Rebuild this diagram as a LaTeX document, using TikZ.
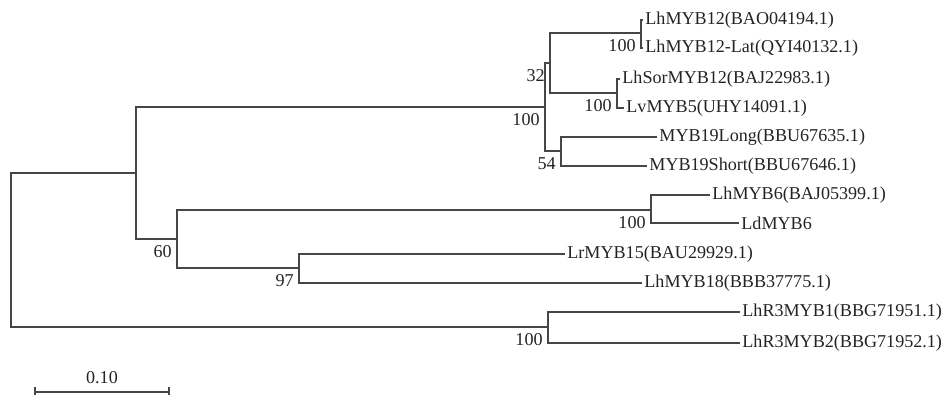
\documentclass[tikz,border=0pt]{standalone}
\usepackage{fontspec}
\setmainfont{Liberation Serif}
\usepackage{xcolor}
\usepackage{tikz}
\usetikzlibrary{positioning}
\definecolor{treeline}{RGB}{70,70,70}
\definecolor{leaftext}{RGB}{35,35,35}

\begin{document}
\begin{tikzpicture}[x=0.5pt, y=-0.5pt, every node/.style={inner sep=1pt},
  taxon/.style={anchor=west, font=\fontsize{9.05}{10}\selectfont, color=leaftext},
  boot/.style={anchor=east, inner sep=2.5pt, yshift=-6.5pt, font=\fontsize{9.05}{10}\selectfont, color=leaftext},
  branch/.style={draw=treeline, line width=0.75pt}]
\useasboundingbox (0,0) rectangle (946,395);
\coordinate (nR) at (11,250);
\coordinate (nA) at (136,173);
\coordinate (nB) at (545,107);
\coordinate (nC) at (550,63);
\coordinate (nD) at (641,33);
\coordinate (nE) at (617,93);
\coordinate (nF) at (561,151);
\coordinate (nG) at (177,239);
\coordinate (nH) at (651,210);
\coordinate (nI) at (299,268);
\coordinate (nJ) at (548,327);
\node[taxon] (lhmyb12) at (643,20) {LhMYB12(BAO04194.1)};
\node[taxon] (lhmyb12lat) at (643,48) {LhMYB12-Lat(QYI40132.1)};
\node[taxon] (lhsor) at (620,79) {LhSorMYB12(BAJ22983.1)};
\node[taxon] (lvmyb5) at (624,108) {LvMYB5(UHY14091.1)};
\node[taxon] (myblong) at (657,137) {MYB19Long(BBU67635.1)};
\node[taxon] (mybshort) at (647,166) {MYB19Short(BBU67646.1)};
\node[taxon] (lhmyb6) at (710,195) {LhMYB6(BAJ05399.1)};
\node[taxon] (ldmyb6) at (739,223) {LdMYB6};
\node[taxon] (lrmyb15) at (565,254) {LrMYB15(BAU29929.1)};
\node[taxon] (lhmyb18) at (642,283) {LhMYB18(BBB37775.1)};
\node[taxon] (r3myb1) at (740,312) {LhR3MYB1(BBG71951.1)};
\node[taxon] (r3myb2) at (740,343) {LhR3MYB2(BBG71952.1)};
\draw[branch] (lhmyb12.west) -| (nD) |- (lhmyb12lat.west);
\draw[branch] (lhsor.west) -| (nE) |- (lvmyb5.west);
\draw[branch] (myblong.west) -| (nF) |- (mybshort.west);
\draw[branch] (nD) -| (nC) |- (nE);
\draw[branch] (nC) -| (nB) |- (nF);
\draw[branch] (lhmyb6.west) -| (nH) |- (ldmyb6.west);
\draw[branch] (lrmyb15.west) -| (nI) |- (lhmyb18.west);
\draw[branch] (nH) -| (nG) |- (nI);
\draw[branch] (nB) -| (nA) |- (nG);
\draw[branch] (r3myb1.west) -| (nJ) |- (r3myb2.west);
\draw[branch] (nA) -| (nR) |- (nJ);
\node[boot] (bD) at (nD) {100};
\node[boot] (bE) at (nE) {100};
\node[boot] (bC) at (nC) {32};
\node[boot] (bB) at (nB) {100};
\node[boot] (bF) at (nF) {54};
\node[boot] (bH) at (nH) {100};
\node[boot] (bG) at (nG) {60};
\node[boot] (bI) at (nI) {97};
\node[boot] (bJ) at (nJ) {100};
\coordinate (sbL) at (35,392);
\coordinate (sbR) at (169,392);
\draw[branch] (sbL) -- (sbR);
\draw[branch] (35,387) -- (35,397) (169,387) -- (169,397);
\node[taxon, anchor=center] (sbtext) at (102,378) {0.10};
\end{tikzpicture}
\end{document}
